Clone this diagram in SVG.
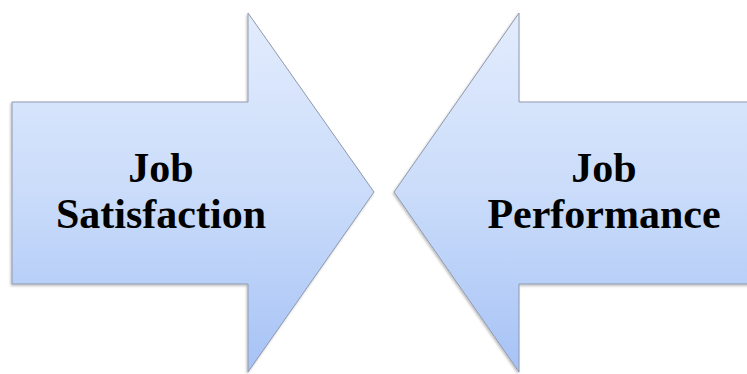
<svg xmlns="http://www.w3.org/2000/svg" width="747" height="374" viewBox="0 0 747 374">
  <defs>
    <linearGradient id="fillGrad" gradientUnits="userSpaceOnUse" x1="0" y1="13" x2="0" y2="373">
      <stop offset="0" stop-color="#e3ecfd"/>
      <stop offset="0.5" stop-color="#cadcfa"/>
      <stop offset="1" stop-color="#a6c2f5"/>
    </linearGradient>
    <filter id="shadow" x="-5%" y="-5%" width="110%" height="110%">
      <feDropShadow dx="-1" dy="1.5" stdDeviation="1" flood-color="#000" flood-opacity="0.25"/>
    </filter>
  </defs>
  <style>
    .arrow { fill: url(#fillGrad); stroke: #8e99ad; stroke-width: 1; stroke-linejoin: miter; filter: url(#shadow); }
    .label { font-family: "Liberation Serif", "Times New Roman", serif; font-weight: bold; font-size: 42px; fill: #000; text-anchor: middle; }
  </style>
  <rect width="747" height="374" fill="#ffffff"/>
  <g id="job-satisfaction">
    <polygon class="arrow" points="12,102 248,102 248,13 374,192 248,372 248,284 12,284"/>
    <text class="label" x="161" y="182">Job</text>
    <text class="label" x="161" y="228">Satisfaction</text>
  </g>
  <g id="job-performance">
    <polygon class="arrow" points="760,102 519,102 519,13 394,192 519,372 519,284 760,284"/>
    <text class="label" x="604" y="182">Job</text>
    <text class="label" x="604" y="228">Performance</text>
  </g>
  <g id="connectors"/>
</svg>
